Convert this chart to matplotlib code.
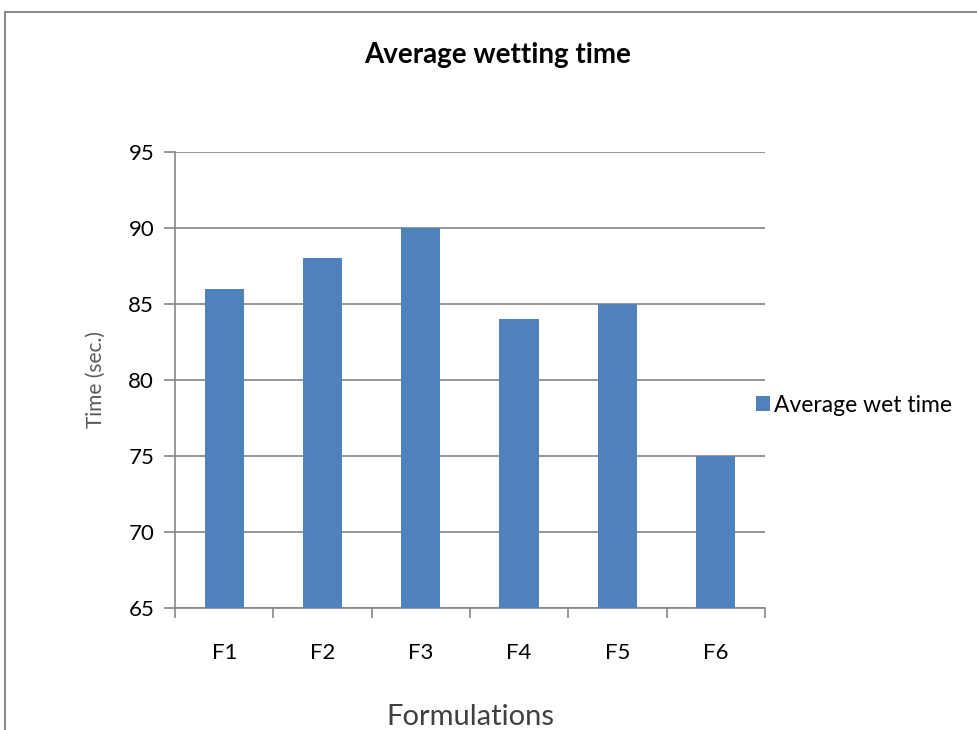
import matplotlib.pyplot as plt
from matplotlib.patches import Rectangle

# data
formulations = ['F1', 'F2', 'F3', 'F4', 'F5', 'F6']
wet_time = [86, 88, 90, 84, 85, 75]
y_ticks = [65, 70, 75, 80, 85, 90, 95]

bar_color = '#4F81BD'
grid_color = '#868686'

plt.rcParams['font.family'] = ['Lato', 'DejaVu Sans']

fig = plt.figure(figsize=(9.78, 7.30), dpi=100)
ax = fig.add_axes([0.179, 0.167, 0.603, 0.625])

x = range(len(formulations))
ax.bar(x, wet_time, width=0.4, color=bar_color, zorder=3, label='Average wet time')

ax.set_ylim(65, 95)
ax.set_yticks(y_ticks)
ax.set_xlim(-0.5, len(formulations) - 0.5)
ax.set_xticks(list(x))
ax.set_xticklabels(formulations)
# category separators as outward ticks on the x axis
ax.set_xticks([i - 0.5 for i in range(len(formulations) + 1)], minor=True)
ax.tick_params(axis='x', which='major', length=0, pad=25, labelsize=16)
ax.tick_params(axis='x', which='minor', length=7, color=grid_color, width=1.2)
ax.tick_params(axis='y', length=8, color=grid_color, width=1.2, labelsize=16, pad=7)

ax.grid(axis='y', color=grid_color, linewidth=1.2, zorder=0)
for side in ['top', 'right']:
    ax.spines[side].set_visible(False)
for side in ['left', 'bottom']:
    ax.spines[side].set_color(grid_color)
    ax.spines[side].set_linewidth(1.2)

ax.set_ylabel('Time (sec.)', fontsize=15, color='#595959', labelpad=16)
ax.set_xlabel('Formulations', fontsize=21, color='#404040', labelpad=30)

fig.text(0.509, 0.925, 'Average wetting time', ha='center', va='center',
         fontsize=20, fontweight='bold')

ax.legend(loc='center left', bbox_to_anchor=(0.95, 0.445), frameon=False,
          fontsize=16.5, handlelength=0.6, handleheight=0.6, handletextpad=0.2)

# outer chart border like the Excel chart area
fig.patches.append(Rectangle((0.005, -0.05), 1.1, 0.05 + 0.984, transform=fig.transFigure,
                             fill=False, edgecolor='#8c8c8c', linewidth=1.5))

plt.savefig('out.png', dpi=100)
